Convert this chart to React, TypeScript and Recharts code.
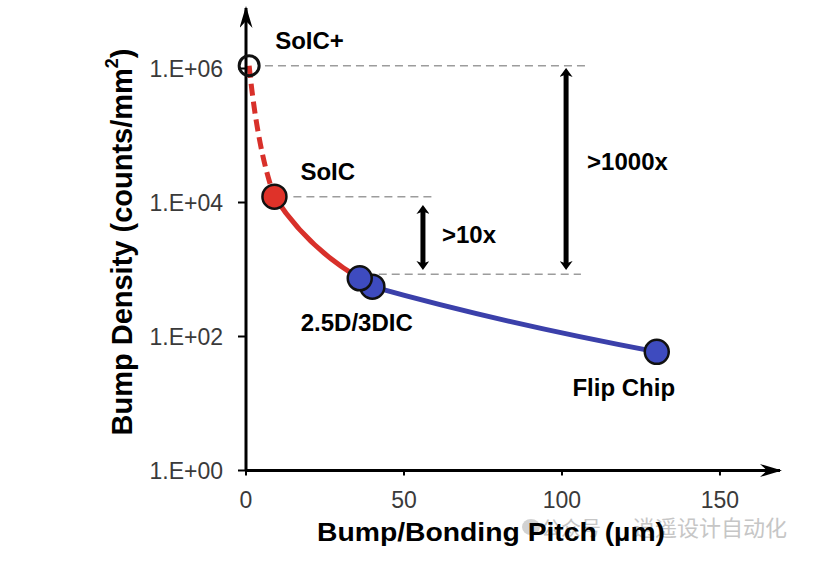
import React from 'react';
import { ComposedChart, XAxis, YAxis, Line, Scatter, ReferenceLine } from 'recharts';

// ---------- data ----------
const techNames = ['SoIC+', 'SoIC', '2.5D/3DIC', '2.5D/3DIC', 'Flip Chip'];
const pitchUm = [1, 9, 36, 40, 130];
const bumpDensity = [1.1e6, 1.22e4, 740, 555, 59];
const pointLabels = ['SoIC+', 'SoIC', '2.5D/3DIC', '', 'Flip Chip'];

const xTicks = [0, 50, 100, 150];
const yTicks = [1, 1e2, 1e4, 1e6];

const guideY = [1.1e6, 1.22e4, 850];
const guideXStart = [6, 15, 42];
const guideXEnd = [108, 60, 106];

const arrowX = [56, 101.3];
const arrowTop = [7470, 8.3e5];
const arrowBottom = [1208, 1208];
const arrowText = ['>10x', '>1000x'];

const xTitle = 'Bump/Bonding Pitch (µm)';
const yTitle = 'Bump Density (counts/mm';

// ---------- styles ----------
const FONT = "'Liberation Sans', Arial, Helvetica, sans-serif";
const RED = '#df3229';
const RED_LINE = '#d8302a';
const BLUE = '#3e4bbf';
const BLUE_LINE = '#3b40aa';

const labelStyle: Record<string, { dx: number; dy: number; anchor: string }> = {
  'SoIC+': { dx: 26, dy: -17, anchor: 'start' },
  'SoIC': { dx: 26, dy: -17, anchor: 'start' },
  '2.5D/3DIC': { dx: -3, dy: 53, anchor: 'middle' },
  'Flip Chip': { dx: -33, dy: 44, anchor: 'middle' },
};
const annoStyle: Record<string, { dx: number; dy: number }> = {
  '>10x': { dx: 19, dy: 6 },
  '>1000x': { dx: 21, dy: 1 },
};

// ---------- derived tables ----------
const points = techNames.map((name, i) => ({ x: pitchUm[i], y: bumpDensity[i], name, label: pointLabels[i] }));
const dotsDrawOrder = points.slice().reverse();
const dashedSeg = points.slice(0, 2);
const redSeg = points.slice(1, 3);
const blueSeg = points.slice(2, 5);
const annotations = arrowX.map((x, i) => ({ x, y: Math.sqrt(arrowTop[i] * arrowBottom[i]), text: arrowText[i] }));

// gently bowed curve (towards lower-left), built as a d3-style curve factory
function bowCurve(t: number) {
  return (context: any) => {
    let pts: number[][] = [];
    return {
      areaStart() {},
      areaEnd() {},
      lineStart() {
        pts = [];
      },
      lineEnd() {
        if (!pts.length) return;
        context.moveTo(pts[0][0], pts[0][1]);
        for (let i = 1; i < pts.length; i++) {
          const [x0, y0] = pts[i - 1];
          const [x1, y1] = pts[i];
          const mx = (x0 + x1) / 2;
          const my = (y0 + y1) / 2;
          const cx = mx + t * (x0 - mx);
          const cy = my + t * (y1 - my);
          context.quadraticCurveTo(cx, cy, x1, y1);
        }
      },
      point(x: number, y: number) {
        pts.push([x, y]);
      },
    };
  };
}

const fmtY = (v: number) => `1.E+${String(Math.round(Math.log10(v))).padStart(2, '0')}`;

function DotShape(props: any) {
  const { cx, cy, payload } = props;
  if (cx == null || cy == null) return null;
  const hollow = payload.name === 'SoIC+';
  const fill = hollow ? 'none' : payload.name === 'SoIC' ? RED : BLUE;
  const ls = payload.label ? labelStyle[payload.label] : null;
  return (
    <g>
      <circle cx={cx} cy={cy} r={hollow ? 10 : 12} fill={fill} stroke="#111" strokeWidth={hollow ? 3 : 2.5} />
      {ls && (
        <text
          x={cx + ls.dx}
          y={cy + ls.dy}
          textAnchor={ls.anchor as any}
          fontFamily={FONT}
          fontWeight="bold"
          fontSize={24}
          fill="#000"
        >
          {payload.label}
        </text>
      )}
    </g>
  );
}

function AnnoShape(props: any) {
  const { cx, cy, payload } = props;
  if (cx == null || cy == null) return null;
  const s = annoStyle[payload.text];
  return (
    <text x={cx + s.dx} y={cy + s.dy} fontFamily={FONT} fontWeight="bold" fontSize={24} fill="#000">
      {payload.text}
    </text>
  );
}

function XTitle() {
  return (
    <text
      x={491}
      y={541}
      textAnchor="middle"
      fontFamily={FONT}
      fontWeight="bold"
      fontSize={26}
      textLength={348}
      lengthAdjust="spacingAndGlyphs"
      fill="#000"
    >
      {xTitle}
    </text>
  );
}

function YTitle() {
  return (
    <text
      x={131.5}
      y={242}
      transform="rotate(-90, 131.5, 242)"
      textAnchor="middle"
      fontFamily={FONT}
      fontWeight="bold"
      fontSize={29}
      fill="#000"
    >
      {yTitle}
      <tspan dy={-14} fontSize={18}>
        2
      </tspan>
      <tspan dy={14}>)</tspan>
    </text>
  );
}

export default function App() {
  return (
    <div style={{ position: 'absolute', left: 0, top: 0, width: 818, height: 563, background: '#fff' }}>
      <svg width={818} height={563} style={{ position: 'absolute', left: 0, top: 0 }}>
        <defs>
          <marker
            id="axisHead"
            viewBox="0 0 22 13"
            refX={20}
            refY={6.5}
            markerWidth={22}
            markerHeight={13}
            markerUnits="userSpaceOnUse"
            orient="auto-start-reverse"
          >
            <path d="M0,0 L22,6.5 L0,13 L7,6.5 z" fill="#000" />
          </marker>
          <marker
            id="dblHead"
            viewBox="0 0 9 13"
            refX={3}
            refY={6.5}
            markerWidth={9}
            markerHeight={13}
            markerUnits="userSpaceOnUse"
            orient="auto-start-reverse"
          >
            <path d="M0,0 L9,6.5 L0,13 L2.5,6.5 z" fill="#000" />
          </marker>
        </defs>
        <ellipse cx={531} cy={527} rx={9} ry={8} fill="#d2d2d2" />
        <text x={541} y={536} fontFamily="'Noto Sans CJK SC', sans-serif" fontSize={20} fill="#c6c6c6">
          公众号
        </text>
        <text x={633} y={536} fontFamily="'Noto Sans CJK SC', sans-serif" fontSize={22} fill="#c6c6c6">
          逍遥设计自动化
        </text>
      </svg>
      <div style={{ position: 'absolute', left: 0, top: 0 }}>
        <ComposedChart width={818} height={563} margin={{ top: 8, right: 38, bottom: 0, left: 0 }}>
          <XAxis
            type="number"
            dataKey="x"
            domain={[0, 169]}
            ticks={xTicks}
            height={92.5}
            interval={0}
            axisLine={{ stroke: '#000', strokeWidth: 3, markerEnd: 'url(#axisHead)' } as any}
            tickLine={{ stroke: '#000', strokeWidth: 2 }}
            tickSize={5}
            tickMargin={16}
            tick={{ fill: '#3a3a3a', fontSize: 23, fontFamily: FONT }}
            label={{ content: XTitle } as any}
          />
          <YAxis
            type="number"
            dataKey="y"
            scale="log"
            domain={[1, 8e6]}
            ticks={yTicks}
            width={246}
            interval={0}
            tickFormatter={fmtY}
            axisLine={{ stroke: '#000', strokeWidth: 3, markerStart: 'url(#axisHead)' } as any}
            tickLine={{ stroke: '#000', strokeWidth: 2 }}
            tickSize={8}
            tickMargin={15}
            tick={{ fill: '#3a3a3a', fontSize: 23, fontFamily: FONT }}
            label={{ content: YTitle } as any}
          />
          {guideY.map((y, i) => (
            <ReferenceLine
              key={`g${i}`}
              segment={[
                { x: guideXStart[i], y },
                { x: guideXEnd[i], y },
              ]}
              stroke="#9c9c9c"
              strokeWidth={1.6}
              strokeDasharray="8 5"
            />
          ))}
          {arrowX.map((x, i) => (
            <ReferenceLine
              key={`a${i}`}
              segment={[
                { x, y: arrowTop[i] },
                { x, y: arrowBottom[i] },
              ]}
              stroke="#000"
              strokeWidth={5}
              {...({ markerStart: 'url(#dblHead)', markerEnd: 'url(#dblHead)' } as any)}
            />
          ))}
          <Line
            data={dashedSeg}
            dataKey="y"
            type={bowCurve(0.31) as any}
            stroke={RED_LINE}
            strokeWidth={5}
            strokeDasharray="12 6"
            dot={false}
            activeDot={false}
            isAnimationActive={false}
          />
          <Line
            data={redSeg}
            dataKey="y"
            type={bowCurve(0.24) as any}
            stroke={RED_LINE}
            strokeWidth={5}
            dot={false}
            activeDot={false}
            isAnimationActive={false}
          />
          <Line
            data={blueSeg}
            dataKey="y"
            type={bowCurve(0.1) as any}
            stroke={BLUE_LINE}
            strokeWidth={5}
            dot={false}
            activeDot={false}
            isAnimationActive={false}
          />
          <Scatter data={dotsDrawOrder} dataKey="y" shape={DotShape} isAnimationActive={false} />
          <Scatter data={annotations} dataKey="y" shape={AnnoShape} isAnimationActive={false} />
        </ComposedChart>
      </div>
    </div>
  );
}
